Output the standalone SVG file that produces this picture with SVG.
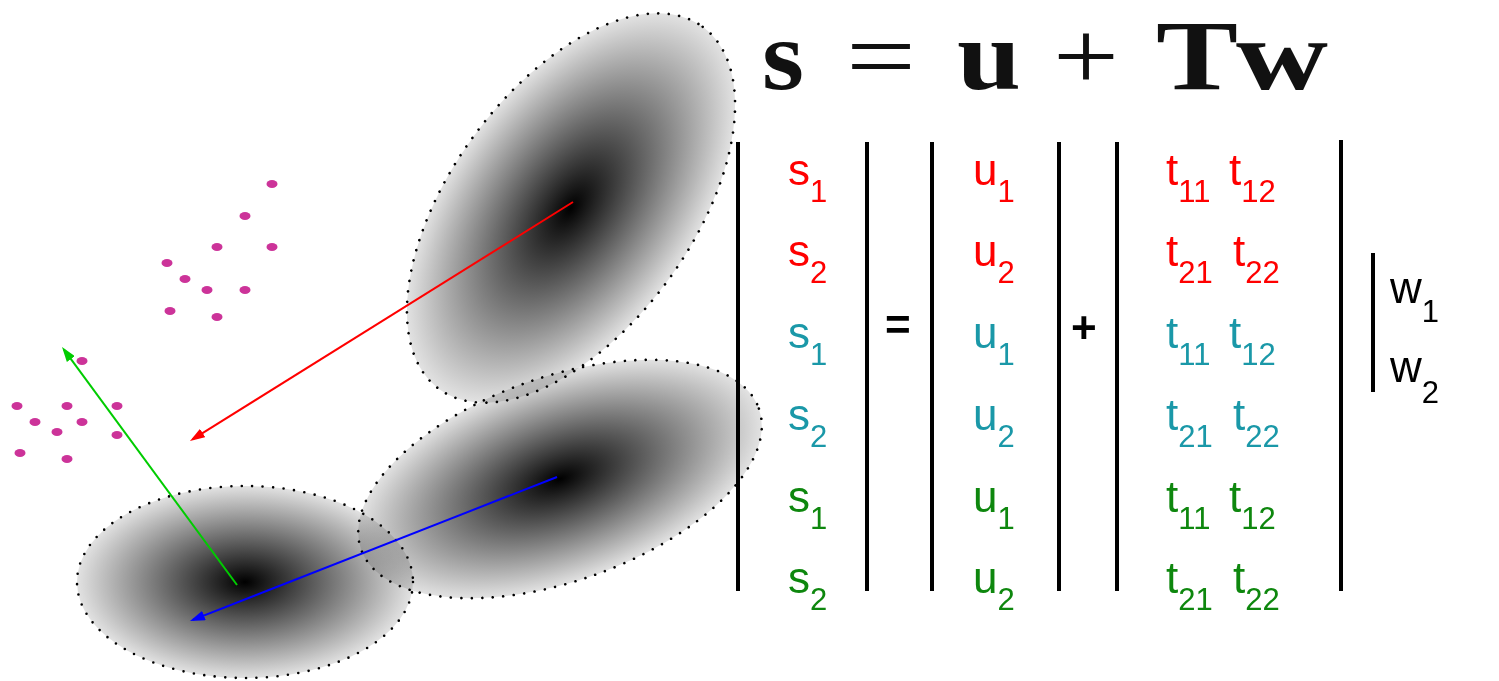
<svg xmlns="http://www.w3.org/2000/svg" width="1499" height="681" viewBox="0 0 1499 681">
<style>
.blob{fill:url(#gr);stroke:#000;stroke-width:2.6;stroke-dasharray:0 10.5;stroke-linecap:round;mix-blend-mode:multiply}
.dot{fill:#cc3399}
.arr{stroke-width:2;fill:none}
.eqb{font-family:"Liberation Serif","Times New Roman",serif;font-weight:bold;font-size:100px;fill:#111}
.eqn{font-family:"Liberation Serif","Times New Roman",serif;font-weight:normal;font-size:100px;fill:#111}
.m{font-family:"Liberation Sans",Arial,sans-serif;font-size:44px}
.sub{font-size:31px}
.op{font-family:"Liberation Sans",Arial,sans-serif;font-size:44px;font-weight:bold;fill:#000}
.red{fill:#ff0000}
.teal{fill:#1a98a8}
.grn{fill:#0e870e}
.blk{fill:#000}
.bar{stroke:#000;stroke-width:4}
</style>
<defs>
<radialGradient id="gr" cx="0.5" cy="0.5" r="0.5">
<stop offset="0" stop-color="#000"/>
<stop offset="1" stop-color="#e2e2e2"/>
</radialGradient>
<marker id="hr" markerUnits="userSpaceOnUse" viewBox="0 0 15 10" markerWidth="15" markerHeight="10" refX="12" refY="5" orient="auto"><path d="M0,0 L15,5 L0,10 z" fill="#ff0000"/></marker>
<marker id="hg" markerUnits="userSpaceOnUse" viewBox="0 0 15 10" markerWidth="15" markerHeight="10" refX="12" refY="5" orient="auto"><path d="M0,0 L15,5 L0,10 z" fill="#00cc00"/></marker>
<marker id="hb" markerUnits="userSpaceOnUse" viewBox="0 0 15 10" markerWidth="15" markerHeight="10" refX="12" refY="5" orient="auto"><path d="M0,0 L15,5 L0,10 z" fill="#0000ff"/></marker>
</defs>
<rect width="1499" height="681" fill="#fff"/>

<g id="blobs">
<g id="blob-top"><ellipse class="blob" cx="571" cy="208" rx="224" ry="121" transform="rotate(-54 571 208)"/></g>
<g id="blob-mid"><ellipse class="blob" cx="560" cy="479" rx="211" ry="102" transform="rotate(-19.5 560 479)"/></g>
<g id="blob-low"><ellipse class="blob" cx="245" cy="582" rx="168" ry="96"/></g>
</g>

<g id="dots">
<ellipse class="dot" cx="272" cy="184" rx="5.5" ry="4"/>
<ellipse class="dot" cx="245" cy="216" rx="5.5" ry="4"/>
<ellipse class="dot" cx="217" cy="247" rx="5.5" ry="4"/>
<ellipse class="dot" cx="272" cy="247" rx="5.5" ry="4"/>
<ellipse class="dot" cx="167" cy="263" rx="5.5" ry="4"/>
<ellipse class="dot" cx="185" cy="279" rx="5.5" ry="4"/>
<ellipse class="dot" cx="207" cy="290" rx="5.5" ry="4"/>
<ellipse class="dot" cx="245" cy="290" rx="5.5" ry="4"/>
<ellipse class="dot" cx="170" cy="311" rx="5.5" ry="4"/>
<ellipse class="dot" cx="217" cy="317" rx="5.5" ry="4"/>
<ellipse class="dot" cx="82" cy="361" rx="5.5" ry="4"/>
<ellipse class="dot" cx="17" cy="406" rx="5.5" ry="4"/>
<ellipse class="dot" cx="67" cy="406" rx="5.5" ry="4"/>
<ellipse class="dot" cx="117" cy="406" rx="5.5" ry="4"/>
<ellipse class="dot" cx="35" cy="422" rx="5.5" ry="4"/>
<ellipse class="dot" cx="82" cy="422" rx="5.5" ry="4"/>
<ellipse class="dot" cx="57" cy="432" rx="5.5" ry="4"/>
<ellipse class="dot" cx="117" cy="435" rx="5.5" ry="4"/>
<ellipse class="dot" cx="20" cy="453" rx="5.5" ry="4"/>
<ellipse class="dot" cx="67" cy="459" rx="5.5" ry="4"/>
</g>

<g id="connectors">
<line class="arr" x1="573" y1="202" x2="192.5" y2="439.4" stroke="#ff0000" marker-end="url(#hr)"/>
<line class="arr" x1="237" y1="585" x2="63.8" y2="349.4" stroke="#00cc00" marker-end="url(#hg)"/>
<line class="arr" x1="557" y1="477" x2="192.8" y2="619.9" stroke="#0000ff" marker-end="url(#hb)"/>
</g>

<g id="equation">
<text class="eqb" x="762" y="89" textLength="42" lengthAdjust="spacingAndGlyphs">s</text>
<text class="eqn" x="846" y="90" textLength="70" lengthAdjust="spacingAndGlyphs">=</text>
<text class="eqb" x="957" y="89" textLength="64" lengthAdjust="spacingAndGlyphs">u</text>
<text class="eqn" x="1053" y="90" textLength="66" lengthAdjust="spacingAndGlyphs">+</text>
<text class="eqb" x="1156" y="89" textLength="82" lengthAdjust="spacingAndGlyphs">T</text>
<text class="eqb" x="1236" y="89" textLength="92" lengthAdjust="spacingAndGlyphs">w</text>
</g>

<g id="matrix-bars">
<line class="bar" x1="738" y1="142" x2="738" y2="591"/>
<line class="bar" x1="867" y1="142" x2="867" y2="591"/>
<line class="bar" x1="932" y1="142" x2="932" y2="591"/>
<line class="bar" x1="1059" y1="142" x2="1059" y2="591"/>
<line class="bar" x1="1117" y1="142" x2="1117" y2="591"/>
<line class="bar" x1="1341" y1="140" x2="1341" y2="591"/>
<line class="bar" x1="1373" y1="253" x2="1373" y2="392"/>
</g>

<g id="vec-s">
<text class="m red" x="788" y="185">s<tspan class="sub" dy="17">1</tspan></text>
<text class="m red" x="788" y="266">s<tspan class="sub" dy="17">2</tspan></text>
<text class="m teal" x="788" y="348">s<tspan class="sub" dy="17">1</tspan></text>
<text class="m teal" x="788" y="430">s<tspan class="sub" dy="17">2</tspan></text>
<text class="m grn" x="788" y="512">s<tspan class="sub" dy="17">1</tspan></text>
<text class="m grn" x="788" y="593">s<tspan class="sub" dy="17">2</tspan></text>
</g>

<g id="op-eq"><text class="op" x="885" y="340">=</text></g>

<g id="vec-u">
<text class="m red" x="973" y="185">u<tspan class="sub" dy="17">1</tspan></text>
<text class="m red" x="973" y="266">u<tspan class="sub" dy="17">2</tspan></text>
<text class="m teal" x="973" y="348">u<tspan class="sub" dy="17">1</tspan></text>
<text class="m teal" x="973" y="430">u<tspan class="sub" dy="17">2</tspan></text>
<text class="m grn" x="973" y="512">u<tspan class="sub" dy="17">1</tspan></text>
<text class="m grn" x="973" y="593">u<tspan class="sub" dy="17">2</tspan></text>
</g>

<g id="op-plus"><text class="op" x="1071" y="343">+</text></g>

<g id="mat-T">
<text class="m red" x="1166" y="185">t<tspan class="sub" dy="17">11</tspan></text>
<text class="m red" x="1229" y="185">t<tspan class="sub" dy="17">12</tspan></text>
<text class="m red" x="1166" y="266">t<tspan class="sub" dy="17">21</tspan></text>
<text class="m red" x="1233" y="266">t<tspan class="sub" dy="17">22</tspan></text>
<text class="m teal" x="1166" y="348">t<tspan class="sub" dy="17">11</tspan></text>
<text class="m teal" x="1229" y="348">t<tspan class="sub" dy="17">12</tspan></text>
<text class="m teal" x="1166" y="430">t<tspan class="sub" dy="17">21</tspan></text>
<text class="m teal" x="1233" y="430">t<tspan class="sub" dy="17">22</tspan></text>
<text class="m grn" x="1166" y="512">t<tspan class="sub" dy="17">11</tspan></text>
<text class="m grn" x="1229" y="512">t<tspan class="sub" dy="17">12</tspan></text>
<text class="m grn" x="1166" y="593">t<tspan class="sub" dy="17">21</tspan></text>
<text class="m grn" x="1233" y="593">t<tspan class="sub" dy="17">22</tspan></text>
</g>

<g id="vec-w">
<text class="m blk" x="1390" y="303">w<tspan class="sub" dy="19">1</tspan></text>
<text class="m blk" x="1390" y="382">w<tspan class="sub" dy="21">2</tspan></text>
</g>
</svg>
